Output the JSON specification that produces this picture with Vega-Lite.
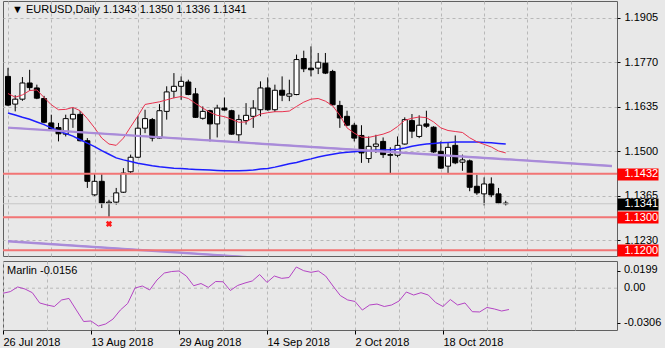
{
  "$schema": "https://vega.github.io/schema/vega-lite/v6.json",
  "background": "#e8e8e8",
  "padding": {"left": 0, "top": 0, "right": 0, "bottom": 0},
  "spacing": 3,
  "config": {
    "view": {"stroke": "#606060", "strokeWidth": 1},
    "font": "Liberation Sans",
    "axis": {"labelFont": "Liberation Sans", "labelFontSize": 11, "labelColor": "#000000", "gridColor": "#b8b8b8", "gridDash": [3, 3], "gridWidth": 1, "tickColor": "#000000", "domain": false, "labelOverlap": false, "labelFlush": false, "labelBound": false}
  },
  "datasets": {
    "bars": [
      {"i":0,"o":1.1727,"h":1.1753,"l":1.1637,"c":1.1640,"m1":1.1675,"m2":1.1616,"osc":-0.0037},
      {"i":1,"o":1.1643,"h":1.1670,"l":1.1621,"c":1.1658,"m1":1.1664,"m2":1.1610,"osc":-0.0025},
      {"i":2,"o":1.1658,"h":1.1725,"l":1.1653,"c":1.1707,"m1":1.1671,"m2":1.1603,"osc":0.0009},
      {"i":3,"o":1.1707,"h":1.1747,"l":1.1683,"c":1.1693,"m1":1.1684,"m2":1.1597,"osc":-0.0006},
      {"i":4,"o":1.1692,"h":1.1702,"l":1.1658,"c":1.1661,"m1":1.1686,"m2":1.1589,"osc":-0.0033},
      {"i":5,"o":1.1660,"h":1.1668,"l":1.1585,"c":1.1588,"m1":1.1663,"m2":1.1581,"osc":-0.0108},
      {"i":6,"o":1.1586,"h":1.1611,"l":1.1562,"c":1.1568,"m1":1.1641,"m2":1.1571,"osc":-0.0123},
      {"i":7,"o":1.1572,"h":1.1586,"l":1.1530,"c":1.1553,"m1":1.1626,"m2":1.1562,"osc":-0.0134},
      {"i":8,"o":1.1552,"h":1.1611,"l":1.1545,"c":1.1599,"m1":1.1627,"m2":1.1554,"osc":-0.0086},
      {"i":9,"o":1.1598,"h":1.1633,"l":1.1571,"c":1.1612,"m1":1.1633,"m2":1.1546,"osc":-0.0075},
      {"i":10,"o":1.1612,"h":1.1622,"l":1.1530,"c":1.1532,"m1":1.1623,"m2":1.1535,"osc":-0.0160},
      {"i":11,"o":1.1532,"h":1.1540,"l":1.1389,"c":1.1409,"m1":1.1599,"m2":1.1525,"osc":-0.0244},
      {"i":12,"o":1.1368,"h":1.1434,"l":1.1365,"c":1.1409,"m1":1.1571,"m2":1.1514,"osc":-0.0240},
      {"i":13,"o":1.1409,"h":1.1431,"l":1.1328,"c":1.1343,"m1":1.1540,"m2":1.1502,"osc":-0.0277},
      {"i":14,"o":1.1343,"h":1.1353,"l":1.1300,"c":1.1346,"m1":1.1522,"m2":1.1491,"osc":-0.0262},
      {"i":15,"o":1.1346,"h":1.1389,"l":1.1338,"c":1.1374,"m1":1.1518,"m2":1.1480,"osc":-0.0226},
      {"i":16,"o":1.1376,"h":1.1449,"l":1.1374,"c":1.1434,"m1":1.1540,"m2":1.1474,"osc":-0.0160},
      {"i":17,"o":1.1438,"h":1.1490,"l":1.1434,"c":1.1482,"m1":1.1574,"m2":1.1469,"osc":-0.0112},
      {"i":18,"o":1.1482,"h":1.1606,"l":1.1480,"c":1.1570,"m1":1.1607,"m2":1.1464,"osc":0.0001},
      {"i":19,"o":1.1570,"h":1.1626,"l":1.1555,"c":1.1599,"m1":1.1642,"m2":1.1460,"osc":0.0016},
      {"i":20,"o":1.1596,"h":1.1601,"l":1.1530,"c":1.1540,"m1":1.1646,"m2":1.1456,"osc":-0.0013},
      {"i":21,"o":1.1540,"h":1.1643,"l":1.1538,"c":1.1623,"m1":1.1650,"m2":1.1453,"osc":0.0060},
      {"i":22,"o":1.1621,"h":1.1697,"l":1.1596,"c":1.1680,"m1":1.1656,"m2":1.1451,"osc":0.0111},
      {"i":23,"o":1.1682,"h":1.1737,"l":1.1661,"c":1.1697,"m1":1.1662,"m2":1.1449,"osc":0.0122},
      {"i":24,"o":1.1697,"h":1.1727,"l":1.1656,"c":1.1712,"m1":1.1666,"m2":1.1448,"osc":0.0126},
      {"i":25,"o":1.1710,"h":1.1717,"l":1.1670,"c":1.1672,"m1":1.1660,"m2":1.1446,"osc":0.0089},
      {"i":26,"o":1.1674,"h":1.1692,"l":1.1601,"c":1.1603,"m1":1.1645,"m2":1.1445,"osc":0.0018},
      {"i":27,"o":1.1600,"h":1.1636,"l":1.1596,"c":1.1621,"m1":1.1631,"m2":1.1444,"osc":0.0034},
      {"i":28,"o":1.1623,"h":1.1626,"l":1.1530,"c":1.1583,"m1":1.1618,"m2":1.1443,"osc":0.0006},
      {"i":29,"o":1.1583,"h":1.1641,"l":1.1542,"c":1.1631,"m1":1.1609,"m2":1.1442,"osc":0.0049},
      {"i":30,"o":1.1631,"h":1.1663,"l":1.1623,"c":1.1625,"m1":1.1605,"m2":1.1441,"osc":0.0047},
      {"i":31,"o":1.1623,"h":1.1626,"l":1.1550,"c":1.1552,"m1":1.1597,"m2":1.1441,"osc":-0.0017},
      {"i":32,"o":1.1550,"h":1.1611,"l":1.1528,"c":1.1596,"m1":1.1588,"m2":1.1441,"osc":0.0020},
      {"i":33,"o":1.1593,"h":1.1646,"l":1.1581,"c":1.1609,"m1":1.1589,"m2":1.1442,"osc":0.0038},
      {"i":34,"o":1.1606,"h":1.1655,"l":1.1571,"c":1.1631,"m1":1.1602,"m2":1.1443,"osc":0.0053},
      {"i":35,"o":1.1626,"h":1.1712,"l":1.1606,"c":1.1692,"m1":1.1613,"m2":1.1446,"osc":0.0100},
      {"i":36,"o":1.1692,"h":1.1724,"l":1.1623,"c":1.1626,"m1":1.1617,"m2":1.1448,"osc":0.0042},
      {"i":37,"o":1.1626,"h":1.1702,"l":1.1619,"c":1.1685,"m1":1.1620,"m2":1.1452,"osc":0.0089},
      {"i":38,"o":1.1685,"h":1.1727,"l":1.1652,"c":1.1670,"m1":1.1620,"m2":1.1457,"osc":0.0072},
      {"i":39,"o":1.1667,"h":1.1717,"l":1.1652,"c":1.1674,"m1":1.1622,"m2":1.1462,"osc":0.0078},
      {"i":40,"o":1.1672,"h":1.1793,"l":1.1670,"c":1.1778,"m1":1.1636,"m2":1.1466,"osc":0.0155},
      {"i":41,"o":1.1781,"h":1.1805,"l":1.1740,"c":1.1750,"m1":1.1649,"m2":1.1472,"osc":0.0128},
      {"i":42,"o":1.1752,"h":1.1818,"l":1.1727,"c":1.1747,"m1":1.1658,"m2":1.1477,"osc":0.0116},
      {"i":43,"o":1.1752,"h":1.1798,"l":1.1734,"c":1.1770,"m1":1.1660,"m2":1.1483,"osc":0.0126},
      {"i":44,"o":1.1767,"h":1.1798,"l":1.1734,"c":1.1737,"m1":1.1652,"m2":1.1487,"osc":0.0089},
      {"i":45,"o":1.1742,"h":1.1747,"l":1.1639,"c":1.1641,"m1":1.1638,"m2":1.1491,"osc":0.0016},
      {"i":46,"o":1.1639,"h":1.1653,"l":1.1571,"c":1.1601,"m1":1.1609,"m2":1.1495,"osc":-0.0054},
      {"i":47,"o":1.1606,"h":1.1623,"l":1.1576,"c":1.1579,"m1":1.1571,"m2":1.1497,"osc":-0.0086},
      {"i":48,"o":1.1579,"h":1.1586,"l":1.1530,"c":1.1540,"m1":1.1555,"m2":1.1499,"osc":-0.0097},
      {"i":49,"o":1.1548,"h":1.1579,"l":1.1465,"c":1.1495,"m1":1.1543,"m2":1.1501,"osc":-0.0160},
      {"i":50,"o":1.1478,"h":1.1545,"l":1.1465,"c":1.1515,"m1":1.1542,"m2":1.1502,"osc":-0.0123},
      {"i":51,"o":1.1515,"h":1.1550,"l":1.1495,"c":1.1522,"m1":1.1547,"m2":1.1503,"osc":-0.0116},
      {"i":52,"o":1.1530,"h":1.1542,"l":1.1480,"c":1.1490,"m1":1.1552,"m2":1.1504,"osc":-0.0134},
      {"i":53,"o":1.1490,"h":1.1512,"l":1.1431,"c":1.1488,"m1":1.1560,"m2":1.1505,"osc":-0.0123},
      {"i":54,"o":1.1488,"h":1.1545,"l":1.1482,"c":1.1518,"m1":1.1575,"m2":1.1506,"osc":-0.0094},
      {"i":55,"o":1.1522,"h":1.1603,"l":1.1520,"c":1.1596,"m1":1.1594,"m2":1.1510,"osc":-0.0028},
      {"i":56,"o":1.1593,"h":1.1613,"l":1.1540,"c":1.1561,"m1":1.1600,"m2":1.1515,"osc":-0.0050},
      {"i":57,"o":1.1545,"h":1.1609,"l":1.1540,"c":1.1579,"m1":1.1604,"m2":1.1519,"osc":-0.0033},
      {"i":58,"o":1.1583,"h":1.1623,"l":1.1571,"c":1.1576,"m1":1.1602,"m2":1.1522,"osc":-0.0050},
      {"i":59,"o":1.1573,"h":1.1576,"l":1.1495,"c":1.1498,"m1":1.1589,"m2":1.1524,"osc":-0.0105},
      {"i":60,"o":1.1500,"h":1.1530,"l":1.1447,"c":1.1449,"m1":1.1571,"m2":1.1526,"osc":-0.0134},
      {"i":61,"o":1.1455,"h":1.1525,"l":1.1431,"c":1.1512,"m1":1.1563,"m2":1.1527,"osc":-0.0083},
      {"i":62,"o":1.1518,"h":1.1548,"l":1.1461,"c":1.1465,"m1":1.1560,"m2":1.1528,"osc":-0.0123},
      {"i":63,"o":1.1467,"h":1.1490,"l":1.1441,"c":1.1474,"m1":1.1557,"m2":1.1528,"osc":-0.0108},
      {"i":64,"o":1.1471,"h":1.1475,"l":1.1379,"c":1.1391,"m1":1.1541,"m2":1.1528,"osc":-0.0172},
      {"i":65,"o":1.1394,"h":1.1429,"l":1.1368,"c":1.1374,"m1":1.1529,"m2":1.1528,"osc":-0.0174},
      {"i":66,"o":1.1371,"h":1.1421,"l":1.1336,"c":1.1401,"m1":1.1521,"m2":1.1527,"osc":-0.0141},
      {"i":67,"o":1.1401,"h":1.1421,"l":1.1361,"c":1.1368,"m1":1.1513,"m2":1.1526,"osc":-0.0152},
      {"i":68,"o":1.1371,"h":1.1389,"l":1.1340,"c":1.1343,"m1":1.1501,"m2":1.1524,"osc":-0.0167},
      {"i":69,"o":1.1343,"h":1.1350,"l":1.1336,"c":1.1341,"m1":1.1495,"m2":1.1522,"osc":-0.0156}
    ],
    "trend": [
      {"t":"a","i":0,"p":1.1571},
      {"t":"a","i":83.73,"p":1.1455},
      {"t":"b","i":0,"p":1.1227},
      {"t":"b","i":33.7,"p":1.1178}
    ],
    "levels": [
      {"p":1.1341,"k":"g"},
      {"p":1.1432,"k":"r"},
      {"p":1.1300,"k":"r"},
      {"p":1.1200,"k":"r"}
    ],
    "marks": [
      {"i":14,"p":1.1280}
    ],
    "head": [
      {"t":"▼ EURUSD,Daily  1.1343 1.1350 1.1336 1.1341"}
    ],
    "ind": [
      {"t":"Marlin -0.0156"}
    ],
    "zero": [
      {"v":0}
    ]
  },
  "vconcat": [
    {
      "width": 614,
      "height": 255,
      "layer": [
        {
          "layer": [
            {
              "data": {"name": "bars"},
              "mark": {"type": "rule", "color": "#000000", "strokeWidth": 1, "clip": true},
              "encoding": {
                "x": {"field": "i", "type": "quantitative", "scale": {"domain": [0, 83.73], "nice": false, "zero": false}, "axis": {"values": [0,6,12,18,24,30,36,42,48,54,60,66,72,78], "labels": false, "ticks": false, "grid": true, "title": null}},
                "y": {"field": "l", "type": "quantitative", "scale": {"domain": [1.11827, 1.19555], "nice": false, "zero": false}, "axis": {"orient": "right", "values": [1.1905, 1.177, 1.1635, 1.15, 1.1365, 1.123], "format": ".4f", "tickSize": 3, "labelPadding": 4, "grid": true, "title": null}},
                "y2": {"field": "h"}
              }
            },
            {
              "data": {"name": "bars"},
              "mark": {"type": "bar", "size": 5, "stroke": "#000000", "strokeWidth": 1, "clip": true},
              "encoding": {
                "x": {"field": "i", "type": "quantitative"},
                "y": {"field": "o", "type": "quantitative", "scale": {"domain": [1.11827, 1.19555], "nice": false, "zero": false}},
                "y2": {"field": "c"},
                "fill": {"condition": {"test": "datum.c >= datum.o", "value": "#ffffff"}, "value": "#000000"}
              }
            },
            {
              "data": {"name": "bars"},
              "mark": {"type": "line", "color": "#1e1eff", "strokeWidth": 1.5, "clip": true},
              "encoding": {
                "x": {"field": "i", "type": "quantitative"},
                "y": {"field": "m2", "type": "quantitative", "scale": {"domain": [1.11827, 1.19555], "nice": false, "zero": false}}
              }
            },
            {
              "data": {"name": "bars"},
              "mark": {"type": "line", "color": "#e8324f", "strokeWidth": 1, "clip": true},
              "encoding": {
                "x": {"field": "i", "type": "quantitative"},
                "y": {"field": "m1", "type": "quantitative", "scale": {"domain": [1.11827, 1.19555], "nice": false, "zero": false}}
              }
            },
            {
              "data": {"name": "trend"},
              "mark": {"type": "line", "strokeWidth": 2, "clip": true},
              "encoding": {
                "x": {"field": "i", "type": "quantitative"},
                "y": {"field": "p", "type": "quantitative", "scale": {"domain": [1.11827, 1.19555], "nice": false, "zero": false}},
                "detail": {"field": "t"},
                "color": {"field": "t", "type": "nominal", "scale": {"domain": ["a", "b"], "range": ["#a98bd9", "#a98bd9"]}, "legend": null}
              }
            },
            {
              "data": {"name": "trend"},
              "mark": {"type": "line", "strokeWidth": 1, "yOffset": -0.8, "clip": true},
              "encoding": {
                "x": {"field": "i", "type": "quantitative"},
                "y": {"field": "p", "type": "quantitative", "scale": {"domain": [1.11827, 1.19555], "nice": false, "zero": false}},
                "detail": {"field": "t"},
                "color": {"field": "t", "type": "nominal", "scale": {"domain": ["a", "b"], "range": ["#5a1896", "#5a1896"]}, "legend": null}
              }
            },
            {
              "data": {"name": "marks"},
              "mark": {"type": "point", "shape": "cross", "angle": 45, "size": 40, "filled": true, "color": "#ff1a1a", "opacity": 1},
              "encoding": {
                "x": {"field": "i", "type": "quantitative"},
                "y": {"field": "p", "type": "quantitative", "scale": {"domain": [1.11827, 1.19555], "nice": false, "zero": false}}
              }
            },
            {
              "data": {"name": "head"},
              "mark": {"type": "text", "align": "left", "baseline": "middle", "dx": 4, "dy": 9, "fontSize": 11, "font": "Liberation Sans", "color": "#000000"},
              "encoding": {
                "x": {"datum": 0, "type": "quantitative"},
                "y": {"datum": 1.19555, "type": "quantitative"},
                "text": {"field": "t"}
              }
            }
          ]
        },
        {
          "data": {"name": "levels"},
          "mark": {"type": "rule", "clip": true},
          "encoding": {
            "y": {"field": "p", "type": "quantitative", "scale": {"domain": [1.11827, 1.19555], "nice": false, "zero": false}, "axis": {"orient": "right", "values": [1.1432, 1.1341, 1.13, 1.12], "format": ".4f", "tickSize": 41, "tickWidth": 12, "tickColor": {"condition": {"test": "abs(datum.value - 1.1341) < 0.00001", "value": "#000000"}, "value": "#ff0000"}, "labelColor": "#ffffff", "labelPadding": -34, "grid": false, "zindex": 1, "title": null}},
            "color": {"condition": {"test": "datum.k === 'g'", "value": "#c6c6c6"}, "value": "#f27575"},
            "strokeWidth": {"condition": {"test": "datum.k === 'g'", "value": 1}, "value": 2}
          }
        }
      ],
      "resolve": {"scale": {"y": "independent"}, "axis": {"y": "independent"}}
    },
    {
      "width": 614,
      "height": 69,
      "layer": [
        {
          "data": {"name": "zero"},
          "mark": {"type": "rule", "color": "#b8b8b8", "strokeWidth": 1, "strokeDash": [3, 3]},
          "encoding": {
            "y": {"field": "v", "type": "quantitative", "scale": {"domain": [-0.0306, 0.0199], "nice": false, "zero": false}, "axis": {"orient": "right", "values": [0.0128, -0.0257], "labels": false, "tickSize": 3, "grid": false, "title": null}}
          }
        },
        {
          "data": {"name": "bars"},
          "mark": {"type": "line", "color": "#b444c4", "strokeWidth": 1},
          "encoding": {
            "x": {"field": "i", "type": "quantitative", "scale": {"domain": [0, 83.73], "nice": false, "zero": false}, "axis": {"values": [0,6,12,18,24,30,36,42,48,54,60,66,72,78], "labelExpr": "['26 Jul 2018','','13 Aug 2018','','29 Aug 2018','','14 Sep 2018','','2 Oct 2018','','18 Oct 2018','','',''][round(datum.value/6)]", "labelAlign": "left", "tickSize": 4, "labelPadding": 2, "tickOpacity": {"condition": {"test": "datum.value % 12 === 0 && datum.value <= 60", "value": 1}, "value": 0}, "grid": true, "title": null}},
            "y": {"field": "osc", "type": "quantitative"}
          }
        },
        {
          "data": {"name": "ind"},
          "mark": {"type": "text", "align": "left", "baseline": "middle", "dx": 4, "dy": 10, "fontSize": 11, "font": "Liberation Sans", "color": "#000000"},
          "encoding": {
            "x": {"datum": 0, "type": "quantitative"},
            "y": {"datum": 0.0199, "type": "quantitative"},
            "text": {"field": "t"}
          }
        },
        {
          "data": {"name": "ind"},
          "mark": {"type": "text", "align": "left", "baseline": "middle", "dx": 7, "dy": 9, "fontSize": 11, "font": "Liberation Sans", "color": "#000000"},
          "encoding": {
            "x": {"datum": 83.73, "type": "quantitative"},
            "y": {"datum": 0.0199, "type": "quantitative"},
            "text": {"value": "0.0199"}
          }
        },
        {
          "data": {"name": "zero"},
          "mark": {"type": "text", "align": "left", "baseline": "middle", "dx": 7, "dy": 0, "fontSize": 11, "font": "Liberation Sans", "color": "#000000"},
          "encoding": {
            "x": {"datum": 83.73, "type": "quantitative"},
            "y": {"field": "v", "type": "quantitative"},
            "text": {"value": "0.00"}
          }
        },
        {
          "data": {"name": "ind"},
          "mark": {"type": "text", "align": "left", "baseline": "middle", "dx": 7, "dy": -7, "fontSize": 11, "font": "Liberation Sans", "color": "#000000"},
          "encoding": {
            "x": {"datum": 83.73, "type": "quantitative"},
            "y": {"datum": -0.0306, "type": "quantitative"},
            "text": {"value": "-0.0306"}
          }
        }
      ]
    }
  ]
}
